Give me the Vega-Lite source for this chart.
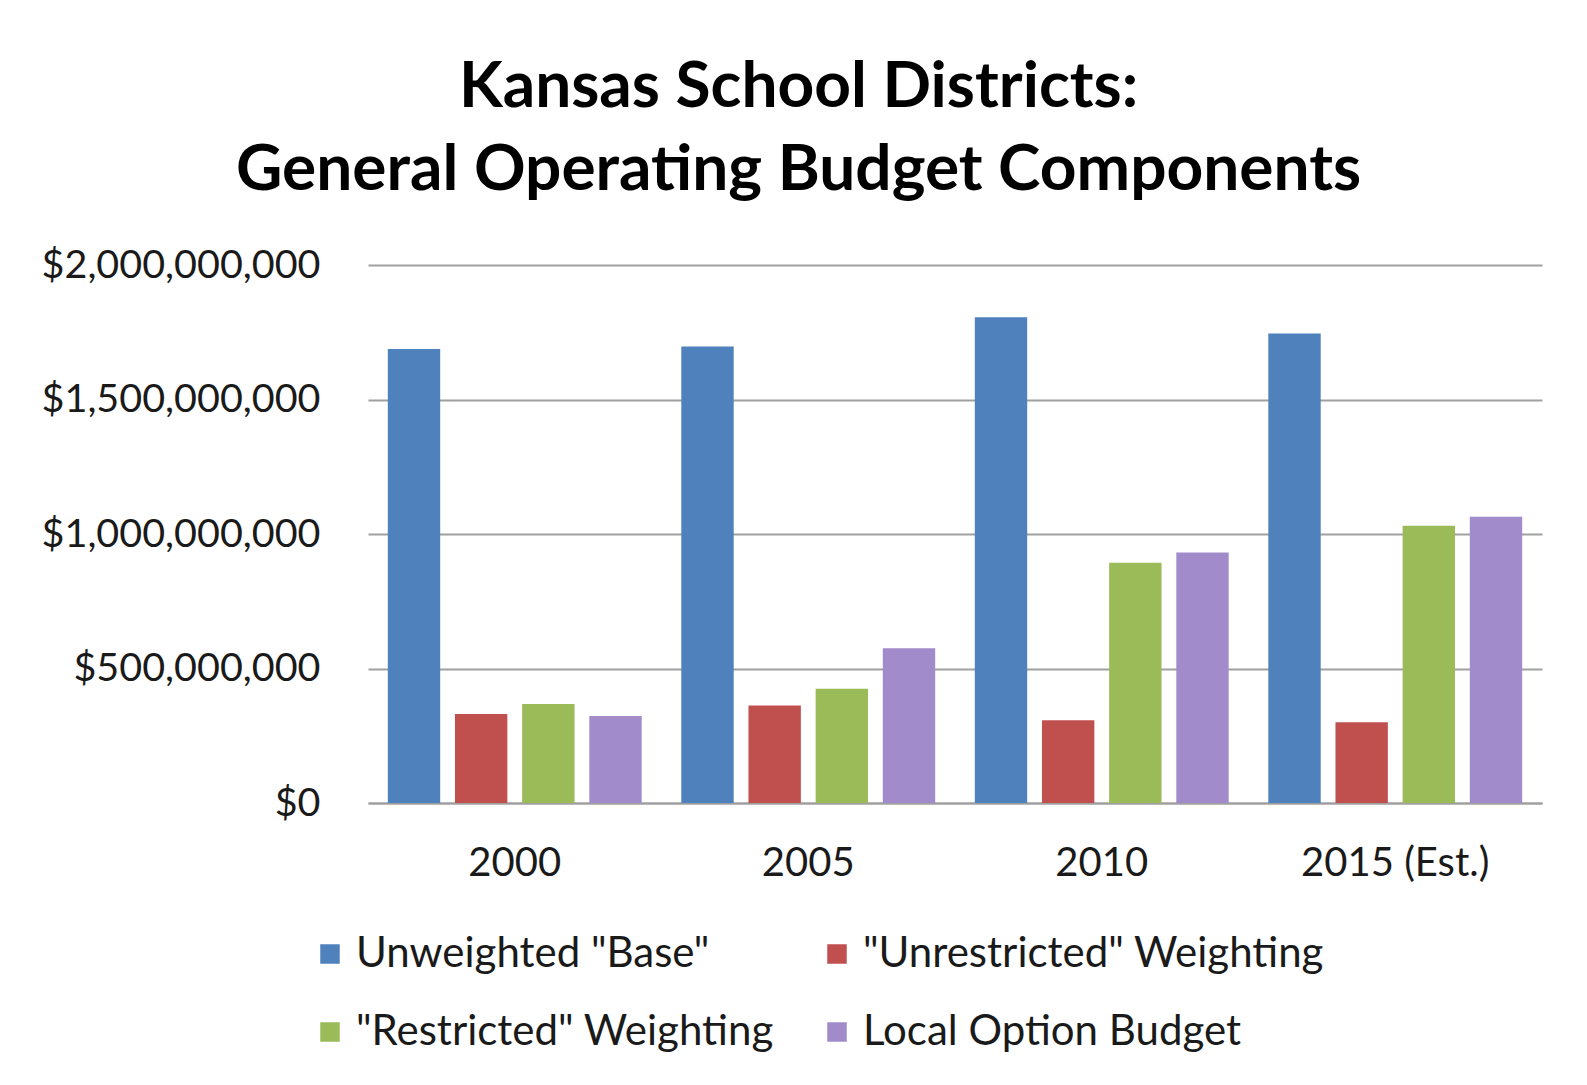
{
  "$schema": "https://vega.github.io/schema/vega-lite/v6.json",
  "width": 1174,
  "height": 538,
  "padding": {"left": 41, "top": 56, "right": 40, "bottom": 10},
  "background": "#ffffff",
  "title": {
    "text": ["Kansas School Districts:", "General Operating Budget Components"],
    "font": "Lato",
    "fontWeight": "bold",
    "fontSize": 64,
    "lineHeight": 83,
    "color": "#000000",
    "anchor": "middle",
    "frame": "bounds",
    "offset": 42,
    "dx": 7
  },
  "data": {
    "values": [
      {"year": "2000", "series": "Unweighted \"Base\"", "value": 1688000000},
      {"year": "2000", "series": "\"Unrestricted\" Weighting", "value": 331000000},
      {"year": "2000", "series": "\"Restricted\" Weighting", "value": 368000000},
      {"year": "2000", "series": "Local Option Budget", "value": 323000000},
      {"year": "2005", "series": "Unweighted \"Base\"", "value": 1697000000},
      {"year": "2005", "series": "\"Unrestricted\" Weighting", "value": 362000000},
      {"year": "2005", "series": "\"Restricted\" Weighting", "value": 425000000},
      {"year": "2005", "series": "Local Option Budget", "value": 575000000},
      {"year": "2010", "series": "Unweighted \"Base\"", "value": 1806000000},
      {"year": "2010", "series": "\"Unrestricted\" Weighting", "value": 308000000},
      {"year": "2010", "series": "\"Restricted\" Weighting", "value": 893000000},
      {"year": "2010", "series": "Local Option Budget", "value": 931000000},
      {"year": "2015 (Est.)", "series": "Unweighted \"Base\"", "value": 1745000000},
      {"year": "2015 (Est.)", "series": "\"Unrestricted\" Weighting", "value": 300000000},
      {"year": "2015 (Est.)", "series": "\"Restricted\" Weighting", "value": 1031000000},
      {"year": "2015 (Est.)", "series": "Local Option Budget", "value": 1064000000}
    ]
  },
  "mark": {"type": "bar"},
  "encoding": {
    "x": {
      "field": "year",
      "type": "nominal",
      "sort": null,
      "scale": {"paddingInner": 0.135, "paddingOuter": 0.0675},
      "axis": {
        "title": null,
        "labelAngle": 0,
        "labelFont": "Lato",
        "labelFontSize": 40,
        "labelColor": "#1a1a1a",
        "labelPadding": 40,
        "labelLimit": 400,
        "ticks": false,
        "domainColor": "#a0a0a0",
        "domainWidth": 2
      }
    },
    "xOffset": {
      "field": "series",
      "type": "nominal",
      "sort": ["Unweighted \"Base\"", "\"Unrestricted\" Weighting", "\"Restricted\" Weighting", "Local Option Budget"],
      "scale": {"paddingInner": 0.22, "paddingOuter": 0}
    },
    "y": {
      "field": "value",
      "type": "quantitative",
      "scale": {"domain": [0, 2000000000], "nice": false},
      "axis": {
        "title": null,
        "values": [0, 500000000, 1000000000, 1500000000, 2000000000],
        "format": "$,.0f",
        "labelFont": "Lato",
        "labelFontSize": 39.5,
        "labelColor": "#1a1a1a",
        "labelPadding": 48,
        "labelLimit": 500,
        "ticks": false,
        "domain": false,
        "grid": true,
        "gridColor": "#a0a0a0",
        "gridWidth": 2
      }
    },
    "color": {
      "field": "series",
      "type": "nominal",
      "sort": ["Unweighted \"Base\"", "\"Unrestricted\" Weighting", "\"Restricted\" Weighting", "Local Option Budget"],
      "scale": {
        "domain": ["Unweighted \"Base\"", "\"Unrestricted\" Weighting", "\"Restricted\" Weighting", "Local Option Budget"],
        "range": ["#4f81bd", "#c0504d", "#9bbb59", "#a18bcb"]
      },
      "legend": {
        "title": null,
        "orient": "none",
        "legendX": -59,
        "legendY": 668,
        "direction": "horizontal",
        "columns": 2,
        "columnPadding": 42,
        "rowPadding": 36,
        "symbolType": "square",
        "symbolSize": 380,
        "symbolStrokeWidth": 0,
        "labelFont": "Lato",
        "labelFontSize": 42,
        "labelColor": "#1a1a1a",
        "labelOffset": 5,
        "labelLimit": 600
      }
    }
  },
  "config": {
    "view": {"stroke": null}
  }
}
